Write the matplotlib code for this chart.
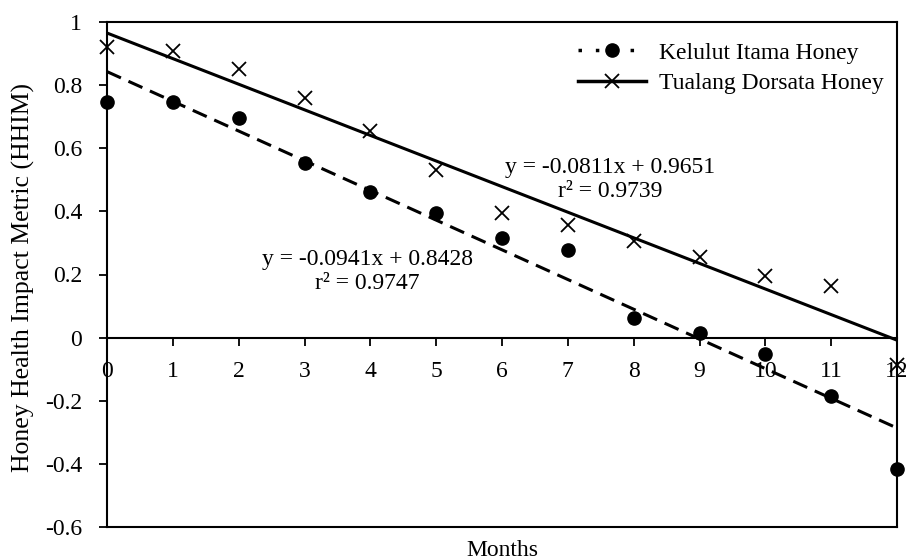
import numpy as np
import matplotlib
matplotlib.use("Agg")
import matplotlib.pyplot as plt
from matplotlib.lines import Line2D

months = list(range(13))
kelulut = [0.746, 0.746, 0.695, 0.553, 0.461, 0.395, 0.316, 0.278, 0.061, 0.016, -0.052, -0.186, -0.415]
tualang = [0.922, 0.908, 0.851, 0.760, 0.656, 0.531, 0.394, 0.357, 0.307, 0.256, 0.196, 0.163, -0.087]
kelulut_fit = (-0.0941, 0.8428)
tualang_fit = (-0.0811, 0.9651)
kelulut_label = "Kelulut Itama Honey"
tualang_label = "Tualang Dorsata Honey"
kelulut_eq = "y = -0.0941x + 0.8428\nr² = 0.9747"
tualang_eq = "y = -0.0811x + 0.9651\nr² = 0.9739"
yticks = [-0.6, -0.4, -0.2, 0, 0.2, 0.4, 0.6, 0.8, 1]
ytick_labels = ["-0.6", "-0.4", "-0.2", "0", "0.2", "0.4", "0.6", "0.8", "1"]

plt.rcParams['font.family'] = ['Liberation Serif', 'DejaVu Serif']
FS = 17

fig = plt.figure(figsize=(9.06, 5.6), dpi=100)
ax = fig.add_axes([107/906, 1-527/560, 790/906, 505/560])

x = np.array(months, dtype=float)
xx = np.array([0, 12], dtype=float)
ax.plot(xx, kelulut_fit[0]*xx + kelulut_fit[1], color='black', lw=2.2,
        dashes=(5, 2.7), zorder=2)
ax.plot(xx, tualang_fit[0]*xx + tualang_fit[1], color='black', lw=2.2, zorder=2)
ax.plot(x, kelulut, 'o', color='black', ms=9.5, ls='none', zorder=3, clip_on=False)
ax.plot(x, tualang, 'x', color='black', ms=9.5, mew=1.3, ls='none', zorder=3, clip_on=False)

ax.set_xlim(0, 12)
ax.set_ylim(-0.6, 1)
ax.set_xticks(months)
ax.set_xticklabels([str(m) for m in months])
ax.set_yticks(yticks)
ax.set_yticklabels(ytick_labels)

for s in ax.spines.values():
    s.set_linewidth(1.5)
ax.spines['bottom'].set_position(('data', 0))
ax.plot([0, 1], [0, 0], transform=ax.transAxes, color='black', lw=1.5, clip_on=False)

ax.tick_params(axis='both', direction='out', length=6, width=1.3, labelsize=FS, colors='black')
ax.tick_params(axis='y', pad=12)
ax.tick_params(axis='x', pad=11)

ax.set_ylabel("Honey Health Impact Metric (HHIM)", fontsize=18.5)
ax.yaxis.set_label_coords((35-107)/790, (527-277)/505)
ax.text(0.5, (527-550)/505, "Months", transform=ax.transAxes, ha='center', va='center', fontsize=FS)

ax.text(7.64, 0.50, tualang_eq, ha='center', va='center', fontsize=FS, linespacing=1.2)
ax.text(3.96, 0.21, kelulut_eq, ha='center', va='center', fontsize=FS, linespacing=1.2)

handles = [
    Line2D([], [], color='black', ls=(0, (1, 4)), lw=2.5, marker='o', ms=9.5),
    Line2D([], [], color='black', ls='-', lw=2.5, marker='x', ms=9.5, mew=1.3),
]
leg = ax.legend(handles, [kelulut_label, tualang_label], loc='upper left',
                bbox_to_anchor=((578-107)/790, (527-42)/505), frameon=False,
                fontsize=FS, borderpad=0, borderaxespad=0, handlelength=2.9,
                handletextpad=0.55, labelspacing=0.4)

fig.savefig("out.png", dpi=100)
